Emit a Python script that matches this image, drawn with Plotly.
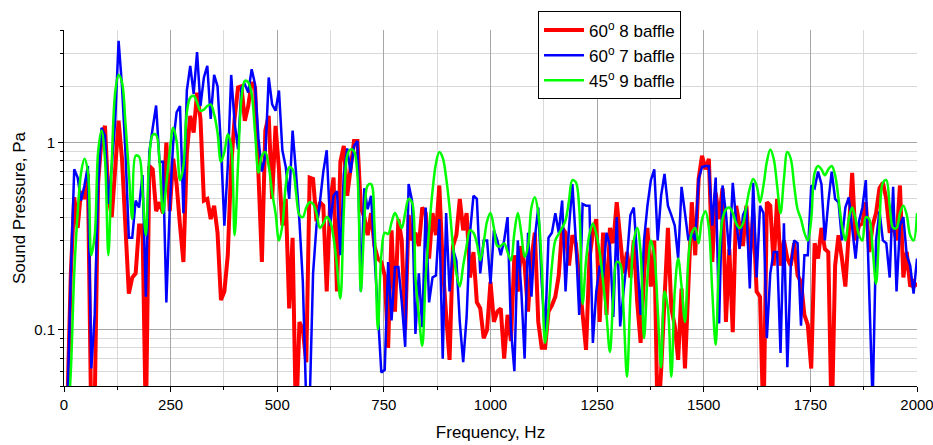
import plotly.graph_objects as go

# frequency bins, Hz (8 Hz resolution)
freq = list(range(0, 2001, 8))

# sound pressure, Pa
red_60_8 = [
    0.03, 0.04, 0.2, 0.51, 0.35, 0.55, 0.5, 0.68, 0.03, 0.04,
    0.61, 1.05, 1.23, 0.52, 0.4, 0.69, 1.31, 0.82, 0.39, 0.156,
    0.19, 0.2, 0.36, 0.36, 0.03, 0.75, 0.72, 0.43, 0.48, 0.42,
    1.0, 0.43, 0.82, 0.6, 0.36, 0.23, 0.87, 1.39, 1.13, 1.85,
    1.34, 0.49, 0.5, 0.39, 0.46, 0.33, 0.144, 0.16, 0.25, 0.75,
    1.34, 1.97, 2.0, 1.31, 1.57, 2.1, 1.97, 0.6, 0.23, 1.16,
    1.39, 0.5, 1.23, 0.72, 0.36, 0.5, 0.13, 0.31, 0.03, 0.11,
    0.1, 0.067, 0.65, 0.64, 0.38, 0.48, 0.46, 0.16, 0.48, 0.65,
    0.16, 0.79, 0.96, 0.52, 0.75, 1.02, 1.02, 0.45, 0.4, 0.32,
    0.42, 0.28, 0.24, 0.23, 0.195, 0.08, 0.34, 0.125, 0.39, 0.3,
    0.1, 0.41, 0.3, 0.33, 0.28, 0.45, 0.42, 0.24, 0.42, 0.32,
    0.59, 0.22, 0.12, 0.069, 0.28, 0.32, 0.5, 0.34, 0.42, 0.19,
    0.26, 0.14, 0.13, 0.09, 0.1, 0.18, 0.11, 0.125, 0.13, 0.07,
    0.12, 0.087, 0.25, 0.16, 0.28, 0.22, 0.125, 0.24, 0.33, 0.11,
    0.08, 0.08, 0.125, 0.135, 0.15, 0.195, 0.35, 0.33, 0.22, 0.32,
    0.29, 0.19, 0.13, 0.078, 0.24, 0.33, 0.39, 0.11, 0.33, 0.12,
    0.35, 0.29, 0.48, 0.3, 0.2, 0.26, 0.19, 0.3, 0.14, 0.085,
    0.195, 0.35, 0.17, 0.3, 0.03, 0.06, 0.16, 0.35, 0.13, 0.105,
    0.069, 0.166, 0.062, 0.16, 0.48, 0.25, 0.64, 0.85, 0.72, 0.82,
    0.23, 0.54, 0.39, 0.57, 0.11, 0.27, 0.097, 0.46, 0.36, 0.28,
    0.46, 0.24, 0.42, 0.16, 0.15, 0.03, 0.48, 0.46, 0.22, 0.5,
    0.22, 0.3, 0.24, 0.22, 0.29, 0.195, 0.18, 0.12, 0.106, 0.062,
    0.29, 0.24, 0.35, 0.27, 0.26, 0.03, 0.22, 0.32, 0.24, 0.17,
    0.33, 0.69, 0.3, 0.36, 0.37, 0.48, 0.26, 0.36, 0.42, 0.57,
    0.61, 0.5, 0.33, 0.36, 0.3, 0.59, 0.19, 0.26, 0.17, 0.18,
    0.17,
]

blue_60_7 = [
    0.02, 0.04, 0.2, 0.72, 0.65, 0.49, 0.59, 0.75, 0.062, 0.12,
    0.59, 1.2, 1.09, 0.47, 0.75, 1.3, 3.5, 2.0, 0.9, 0.31,
    0.31, 0.49, 0.45, 0.67, 0.15, 0.89, 1.2, 1.58, 0.79, 0.79,
    0.14, 0.45, 1.0, 1.45, 1.57, 0.42, 1.9, 2.57, 1.82, 3.05,
    1.57, 2.23, 2.57, 1.34, 2.3, 2.0, 0.96, 0.36, 0.75, 2.3,
    1.28, 0.92, 1.97, 2.05, 1.85, 2.47, 2.05, 1.05, 0.7, 0.85,
    2.23, 1.6, 1.48, 1.9, 0.91, 0.74, 0.5, 1.16, 0.69, 0.38,
    0.18, 0.04, 0.04, 0.2, 0.36, 0.48, 0.7, 0.91, 0.36, 0.52,
    0.55, 0.25, 0.67, 0.93, 0.69, 0.96, 1.02, 0.16, 0.57, 0.44,
    0.52, 0.25, 0.12, 0.059, 0.061, 0.23, 0.112, 0.216, 0.216, 0.14,
    0.081, 0.6, 0.49, 0.095, 0.2, 0.103, 0.45, 0.14, 0.19, 0.195,
    0.39, 0.07, 0.42, 0.16, 0.27, 0.234, 0.11, 0.067, 0.117, 0.33,
    0.52, 0.5, 0.2, 0.3, 0.3, 0.176, 0.34, 0.3, 0.25, 0.3,
    0.4, 0.1, 0.06, 0.3, 0.166, 0.07, 0.33, 0.15, 0.31, 0.45,
    0.18, 0.095, 0.31, 0.33, 0.42, 0.33, 0.49, 0.16, 0.35, 0.6,
    0.3, 0.12, 0.47, 0.46, 0.46, 0.085, 0.16, 0.22, 0.19, 0.33,
    0.28, 0.117, 0.4, 0.104, 0.16, 0.24, 0.41, 0.45, 0.24, 0.12,
    0.3, 0.46, 0.63, 0.72, 0.3, 0.52, 0.68, 0.46, 0.41, 0.36,
    0.24, 0.58, 0.42, 0.3, 0.33, 0.3, 0.64, 0.74, 0.75, 0.75,
    0.36, 0.65, 0.108, 0.59, 0.42, 0.25, 0.61, 0.38, 0.27, 0.41,
    0.45, 0.166, 0.61, 0.19, 0.46, 0.42, 0.09, 0.2, 0.26, 0.26,
    0.075, 0.37, 0.063, 0.22, 0.3, 0.29, 0.105, 0.25, 0.25, 0.59,
    0.57, 0.7, 0.6, 0.3, 0.48, 0.7, 0.5, 0.48, 0.3, 0.45,
    0.51, 0.36, 0.24, 0.38, 0.45, 0.63, 0.18, 0.04, 0.3, 0.43,
    0.3, 0.29, 0.19, 0.58, 0.16, 0.36, 0.4, 0.25, 0.22, 0.156,
    0.24,
]

green_45_9 = [
    0.02, 0.03, 0.06, 0.2, 0.42, 0.69, 0.82, 0.7, 0.25, 0.32,
    0.89, 1.16, 0.82, 0.25, 0.79, 1.85, 2.3, 2.1, 1.28, 0.7,
    0.39, 0.85, 0.84, 0.55, 0.32, 0.82, 1.1, 1.1, 0.79, 0.42,
    0.6, 0.9, 1.2, 1.02, 0.63, 0.75, 1.45, 1.74, 1.78, 1.64,
    1.48, 1.5, 1.57, 1.6, 1.42, 1.13, 0.79, 0.89, 1.11, 0.96,
    0.32, 0.75, 1.71, 2.14, 2.1, 1.82, 1.13, 0.69, 0.85, 0.89,
    0.75, 0.54, 0.42, 0.3, 0.36, 0.59, 0.74, 0.72, 0.54, 0.41,
    0.4, 0.45, 0.48, 0.47, 0.42, 0.35, 0.37, 0.4, 0.38, 0.31,
    0.22, 0.147, 0.42, 0.85, 0.92, 0.9, 0.67, 0.16, 0.36, 0.59,
    0.6, 0.36, 0.1, 0.25, 0.33, 0.325, 0.375, 0.42, 0.385, 0.35,
    0.42, 0.5, 0.48, 0.19, 0.12, 0.082, 0.19, 0.34, 0.55, 0.77,
    0.89, 0.83, 0.65, 0.45, 0.28, 0.2, 0.17, 0.22, 0.28, 0.34,
    0.33, 0.29, 0.235, 0.29, 0.38, 0.42, 0.35, 0.28, 0.28, 0.29,
    0.26, 0.235, 0.33, 0.42, 0.33, 0.245, 0.28, 0.45, 0.51, 0.42,
    0.22, 0.085, 0.127, 0.22, 0.3, 0.325, 0.35, 0.385, 0.49, 0.63,
    0.615, 0.45, 0.137, 0.235, 0.325, 0.37, 0.325, 0.26, 0.18, 0.12,
    0.076, 0.15, 0.23, 0.225, 0.125, 0.056, 0.15, 0.3, 0.35, 0.26,
    0.09, 0.19, 0.3, 0.25, 0.13, 0.063, 0.16, 0.13, 0.056, 0.16,
    0.24, 0.17, 0.11, 0.24, 0.33, 0.35, 0.29, 0.39, 0.43, 0.35,
    0.16, 0.083, 0.24, 0.39, 0.44, 0.45, 0.42, 0.37, 0.35, 0.37,
    0.46, 0.57, 0.64, 0.59, 0.48, 0.59, 0.79, 0.92, 0.82, 0.59,
    0.42, 0.64, 0.89, 0.82, 0.59, 0.44, 0.39, 0.33, 0.3, 0.39,
    0.69, 0.75, 0.72, 0.67, 0.72, 0.75, 0.67, 0.5, 0.36, 0.3,
    0.39, 0.45, 0.39, 0.32, 0.3, 0.4, 0.39, 0.27, 0.176, 0.36,
    0.61, 0.63, 0.46, 0.35, 0.35, 0.42, 0.46, 0.41, 0.32, 0.3,
    0.42,
]

x_ticks = [0, 250, 500, 750, 1000, 1250, 1500, 1750, 2000]
x_minor = [125, 375, 625, 875, 1125, 1375, 1625, 1875]
y_ticks = [0.1, 1]
y_labels = ["0.1", "1"]
y_minor = [0.05, 0.06, 0.07, 0.08, 0.09, 0.2, 0.3, 0.4, 0.5, 0.6, 0.7, 0.8, 0.9, 2, 3, 4]

fig = go.Figure()

series = [
    ("60<sup>o</sup> 8 baffle", red_60_8, "#ff0000", 4, "linear"),
    ("60<sup>o</sup> 7 baffle", blue_60_7, "#0000ff", 2.5, "linear"),
    ("45<sup>o</sup> 9 baffle", green_45_9, "#00ff00", 2.5, "spline"),
]
for name, vals, color, width, shape in series:
    fig.add_trace(go.Scatter(
        x=freq, y=vals, mode="lines", name=name,
        line=dict(color=color, width=width, shape=shape),
    ))

font = "Liberation Sans, Arial, sans-serif"

fig.update_layout(
    width=933, height=445,
    margin=dict(l=64, r=16, t=30, b=59),
    plot_bgcolor="white", paper_bgcolor="white",
    font=dict(family=font, size=15, color="black"),
    showlegend=True,
    legend=dict(
        x=0.5557, y=1.052, xanchor="left", yanchor="top",
        bgcolor="white", bordercolor="black", borderwidth=1,
        font=dict(size=17), tracegroupgap=0, itemwidth=40,
    ),
    xaxis=dict(
        range=[0, 2000], tickmode="array", tickvals=x_ticks,
        ticks="outside", ticklen=5, tickcolor="black", automargin=False,
        ticklabeloverflow="allow",
        showline=True, linecolor="black", linewidth=1,
        showgrid=True, gridcolor="#a6a6a6", gridwidth=1, zeroline=False,
        minor=dict(tickvals=x_minor, ticks="outside", ticklen=3, tickcolor="black",
                   showgrid=True, gridcolor="#d9d9d9", gridwidth=1),
        title=dict(text="Frequency, Hz", font=dict(size=17), standoff=14),
    ),
    yaxis=dict(
        type="log", range=[-1.30103, 0.60206],
        tickmode="array", tickvals=y_ticks, ticktext=y_labels,
        ticks="outside", ticklen=5, tickcolor="black", automargin=False,
        showline=True, linecolor="black", linewidth=1,
        showgrid=True, gridcolor="#a6a6a6", gridwidth=1, zeroline=False,
        minor=dict(tickvals=y_minor, ticks="outside", ticklen=3, tickcolor="black",
                   showgrid=True, gridcolor="#d9d9d9", gridwidth=1),
        title=dict(text="Sound Pressure, Pa", font=dict(size=17), standoff=4),
    ),
)

# drop the default page margin so the figure sits at the window's corner
fig.write_html("out.html", config={"displayModeBar": False},
               post_script="document.body.style.margin='0';")
